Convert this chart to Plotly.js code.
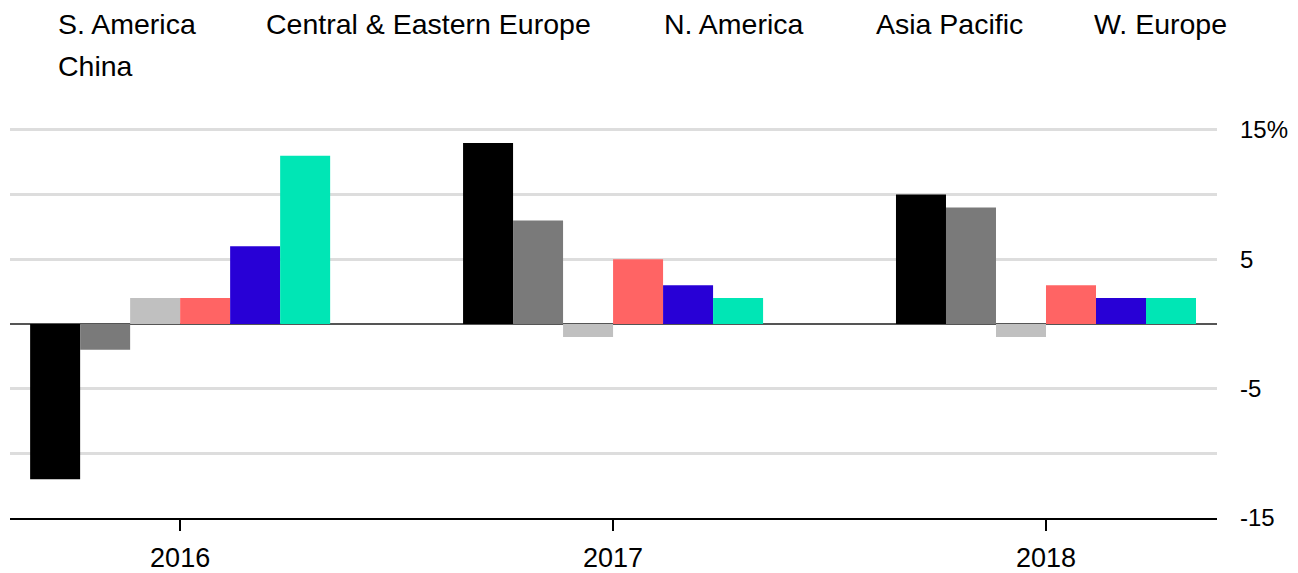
<!DOCTYPE html>
<html>
<head>
<meta charset="utf-8">
<script src="https://cdn.plot.ly/plotly-3.0.1.min.js"></script>
<style>html,body{margin:0;padding:0;background:#fff;}#chart{width:1298px;height:573px;}</style>
</head>
<body>
<div id="chart"></div>
<script>
const years = ['2016', '2017', '2018'];
const regions = ['S. America', 'Central & Eastern Europe', 'N. America', 'Asia Pacific', 'W. Europe', 'China'];
const sAmerica = [-12, 14, 10];
const ceEurope = [-2, 8, 9];
const nAmerica = [2, -1, -1];
const asiaPacific = [2, 5, 3];
const wEurope = [6, 3, 2];
const china = [13, 2, 2];
const colors = ['#000000', '#7a7a7a', '#c0c0c0', '#ff6464', '#2800d6', '#00e6b5'];
const yTickVals = [-15, -10, -5, 0, 5, 10, 15];
const yTickText = ['-15', '', '-5', '', '5', '', '15%'];

const series = [sAmerica, ceEurope, nAmerica, asiaPacific, wEurope, china];
const traces = series.map((vals, i) => ({
  type: 'bar', x: years, y: vals, name: regions[i],
  marker: {color: colors[i], line: {width: 0}},
  hoverinfo: 'x+y+name'
}));

// legend as plain text labels (no swatches), positioned in pixels
const W = 1298, H = 573, ml = 10, mr = 81, mt = 128, mb = 55;
const pw = W - ml - mr, ph = H - mt - mb;
const legendPos = [[56, 24], [264, 24], [662, 24], [874, 24], [1092, 24], [56, 66]];
const annotations = regions.map((r, i) => ({
  text: r, showarrow: false, xref: 'paper', yref: 'paper',
  x: (legendPos[i][0] - ml) / pw, y: (H - mb - legendPos[i][1]) / ph,
  xanchor: 'left', yanchor: 'middle',
  font: {family: 'Liberation Sans, Arial, sans-serif', size: 28.5, color: '#000'}
}));

const layout = {
  width: W, height: H,
  margin: {l: ml, r: mr, t: mt, b: mb, pad: 0},
  paper_bgcolor: '#fff', plot_bgcolor: '#fff',
  barmode: 'group', bargap: 0.307, bargroupgap: 0,
  showlegend: false,
  font: {family: 'Liberation Sans, Arial, sans-serif', color: '#000'},
  xaxis: {
    type: 'category', range: [-0.393, 2.395],
    showline: true, linecolor: '#000', linewidth: 2,
    ticks: 'outside', ticklen: 11, tickwidth: 2, tickcolor: '#000',
    showgrid: false, zeroline: false, ticklabelstandoff: 4,
    tickfont: {size: 27, color: '#000'}
  },
  yaxis: {
    side: 'right', range: [-15, 15.15],
    tickvals: yTickVals, ticktext: yTickText,
    showgrid: true, gridcolor: '#dddddd', gridwidth: 3,
    zeroline: true, zerolinecolor: '#555555', zerolinewidth: 2,
    showline: false, ticks: '', ticklabelstandoff: 22,
    tickfont: {size: 24, color: '#000'}
  },
  annotations: annotations
};

Plotly.newPlot('chart', traces, layout, {displayModeBar: false, staticPlot: true});
</script>
</body>
</html>
